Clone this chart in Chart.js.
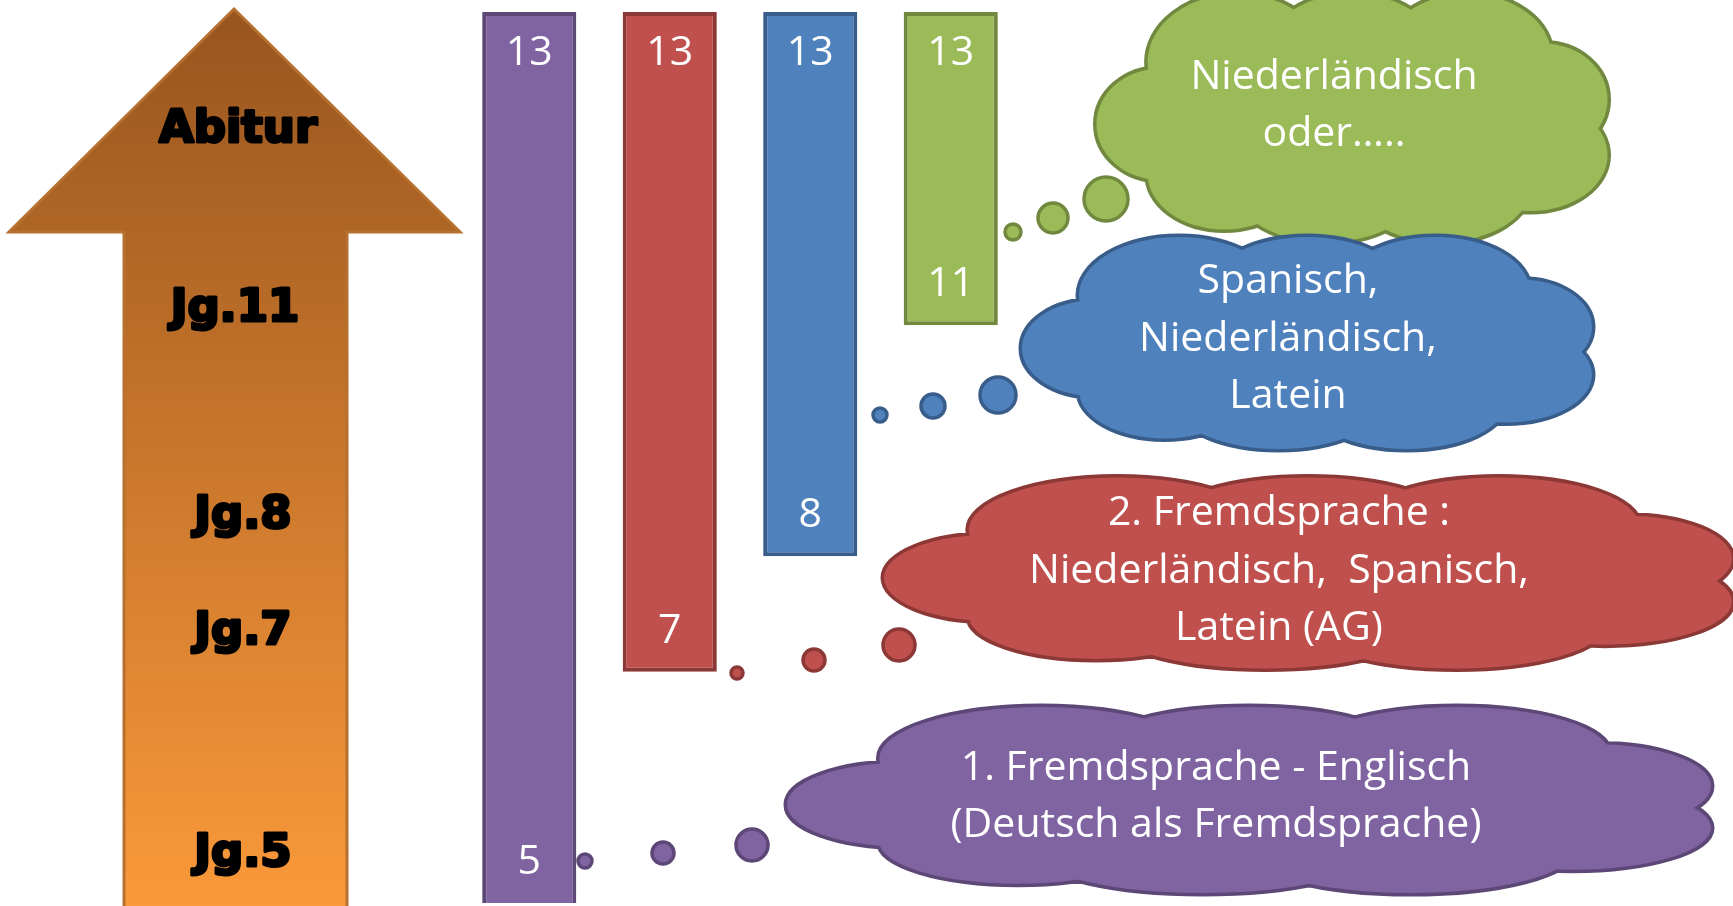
<!DOCTYPE html>
<html lang="de">
<head>
<meta charset="utf-8">
<title>Fremdsprachen</title>
<script src="https://cdn.jsdelivr.net/npm/chart.js@4/dist/chart.umd.min.js"></script>
<style>
  html, body { margin: 0; padding: 0; background: #fff; }
  #rahmen { width: 1733px; height: 906px; position: relative; }
</style>
</head>
<body>
<div id="rahmen"><canvas id="grafico"></canvas></div>
<script>
  // Sprachen: ab welchem Jahrgang bis zu welchem
  const kategorien = ['Englisch', '2. Fremdsprache', 'Wahlpflicht Jg.8', 'Oberstufe Jg.11'];
  const beginn = [5, 7, 8, 11];
  const ende = [13, 13, 13, 13];

  const wolkenTexte = [
    ['1. Fremdsprache - Englisch', '(Deutsch als Fremdsprache)'],
    ['2. Fremdsprache :', 'Niederländisch,  Spanisch,', 'Latein (AG)'],
    ['Spanisch,', 'Niederländisch,', 'Latein'],
    ['Niederländisch', 'oder…..']
  ];
  const pfeilTexte = ['Jg.5', 'Jg.7', 'Jg.8', 'Jg.11', 'Abitur'];

  // Jahrgang -> Stufe auf der Leiter (9 und 10 teilen sich eine Stufe)
  const jahrgaenge = [5, 7, 8, 11, 13];
  const stufen = [0, 2, 3, 5, 7];

  const farben = ['#8064A2', '#C0504D', '#4F81BD', '#9BBB59'];
  const linien = ['#5C4776', '#8C3836', '#385D8A', '#71893F'];

  const rand = 0.355; // Balken ragen etwas über die Zahl hinaus
  const stufe = j => stufen[jahrgaenge.indexOf(j)];

  // Wolken und Bläschen (nur Dekoration)
  const wolken = [
    { x: 1249, y: 800, b: 924, h: 186, tx: 1216, ty: 797 },
    { x: 1308, y: 573, b: 848, h: 191, tx: 1279, ty: 571 },
    { x: 1307, y: 343, b: 570, h: 212, tx: 1288, ty: 339 },
    { x: 1352, y: 118, b: 511, h: 248, tx: 1334, ty: 106 }
  ];
  const blasen = [
    [[585, 861, 7], [663, 853, 11], [752, 845, 16]],
    [[737, 673, 6], [814, 660, 11], [899, 645, 16]],
    [[880, 415, 7], [933, 406, 12], [998, 395, 18]],
    [[1013, 232, 8], [1053, 218, 15], [1106, 199, 22]]
  ];
  // Buckel der Wolke, normiert auf -1..1
  const buckel = [
    [-0.45, -0.45, 0.35, 0.55], [0.0, -0.55, 0.33, 0.45], [0.45, -0.5, 0.33, 0.5],
    [0.75, -0.15, 0.25, 0.45], [0.7, 0.3, 0.3, 0.45], [0.35, 0.55, 0.35, 0.45],
    [-0.1, 0.6, 0.35, 0.4], [-0.5, 0.45, 0.3, 0.45], [-0.75, 0.05, 0.25, 0.45],
    [0, 0, 0.7, 0.6]
  ];

  function zeichneWolke(ctx, w, fuell, linie) {
    const rx = w.b / 2, ry = w.h / 2;
    ctx.beginPath();
    buckel.forEach(([x, y, a, b]) => {
      const cx = w.x + x * rx, cy = w.y + y * ry;
      ctx.moveTo(cx + a * rx, cy);
      ctx.ellipse(cx, cy, a * rx, b * ry, 0, 0, Math.PI * 2);
    });
    ctx.lineWidth = 7;
    ctx.strokeStyle = linie;
    ctx.stroke();
    ctx.fillStyle = fuell;
    ctx.fill();
  }

  const deko = {
    id: 'deko',
    beforeDatasetsDraw(chart) {
      const ctx = chart.ctx;
      ctx.save();
      // großer Pfeil
      const grad = ctx.createLinearGradient(0, 0, 0, 906);
      grad.addColorStop(0, '#97541E');
      grad.addColorStop(1, '#FA993A');
      ctx.beginPath();
      ctx.moveTo(234, 9);
      ctx.lineTo(460, 232);
      ctx.lineTo(347, 232);
      ctx.lineTo(347, 912);
      ctx.lineTo(124, 912);
      ctx.lineTo(124, 232);
      ctx.lineTo(9, 232);
      ctx.closePath();
      ctx.fillStyle = grad;
      ctx.fill();
      ctx.lineWidth = 3;
      ctx.strokeStyle = '#B6702F';
      ctx.stroke();

      const pos = [[243, 854], [243, 632], [243, 516], [235, 309], [238, 130]];
      ctx.fillStyle = '#000';
      ctx.strokeStyle = '#000';
      ctx.lineWidth = 3;
      ctx.lineJoin = 'round';
      ctx.font = 'bold 45px "DejaVu Sans"';
      ctx.textAlign = 'center';
      ctx.textBaseline = 'middle';
      pfeilTexte.forEach((t, i) => {
        ctx.strokeText(t, pos[i][0], pos[i][1]);
        ctx.fillText(t, pos[i][0], pos[i][1]);
      });
      ctx.restore();
    },
    afterDatasetsDraw(chart) {
      const ctx = chart.ctx;
      const y = chart.scales.y;
      const meta = chart.getDatasetMeta(0);
      ctx.save();
      ctx.textAlign = 'center';
      ctx.textBaseline = 'middle';
      ctx.font = '41px "Open Sans"';
      ctx.fillStyle = '#fff';
      meta.data.forEach((bar, i) => {
        ctx.fillText(String(ende[i]), bar.x, y.getPixelForValue(stufe(ende[i])));
        ctx.fillText(String(beginn[i]), bar.x, y.getPixelForValue(stufe(beginn[i])));
      });

      wolken.forEach((w, i) => {
        blasen[i].forEach(([bx, by, r]) => {
          ctx.beginPath();
          ctx.arc(bx, by, r, 0, Math.PI * 2);
          ctx.fillStyle = farben[i];
          ctx.fill();
          ctx.lineWidth = 3.5;
          ctx.strokeStyle = linien[i];
          ctx.stroke();
        });
      });
      [3, 2, 1, 0].forEach(i => {
        const w = wolken[i];
        zeichneWolke(ctx, w, farben[i], linien[i]);
        const zeilen = wolkenTexte[i];
        ctx.fillStyle = '#fff';
        ctx.font = '41px "Open Sans"';
        zeilen.forEach((z, k) => {
          ctx.fillText(z, w.tx, w.ty + (k - (zeilen.length - 1) / 2) * 57.5);
        });
      });
      ctx.restore();
    }
  };

  Chart.defaults.font.family = '"Open Sans", sans-serif';

  const ctx = document.getElementById('grafico').getContext('2d');
  const grafico = new Chart(ctx, {
    type: 'bar',
    data: {
      labels: kategorien,
      datasets: [{
        label: 'Jahrgänge',
        data: beginn.map((b, i) => [stufe(b) - rand, stufe(ende[i]) + rand]),
        backgroundColor: farben,
        borderColor: linien,
        borderWidth: 4,
        // der lila Balken läuft unten aus dem Bild
        borderSkipped: c => (c.dataIndex === 0 ? 'bottom' : false),
        categoryPercentage: 1,
        barPercentage: 0.67
      }]
    },
    options: {
      responsive: true,
      maintainAspectRatio: false,
      animation: false,
      events: [],
      layout: { padding: { left: 459, right: 712, top: 0, bottom: 0 } },
      plugins: { legend: { display: false }, tooltip: { enabled: false } },
      scales: {
        x: { display: false },
        y: { display: false, min: -0.381, max: 7.4586 }
      }
    },
    plugins: [deko]
  });
</script>
</body>
</html>
